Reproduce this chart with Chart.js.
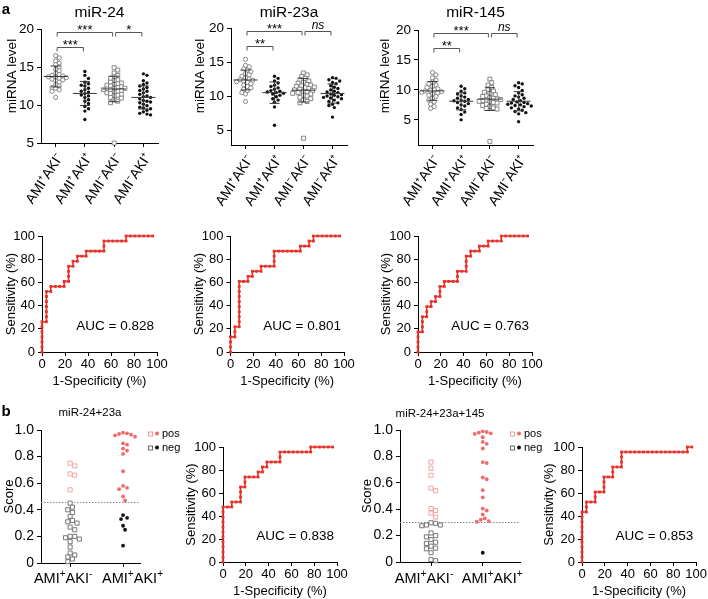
<!DOCTYPE html>
<html>
<head>
<meta charset="utf-8">
<script src="https://cdn.jsdelivr.net/npm/chart.js@4.4.1/dist/chart.umd.min.js"></script>
<style>
  body { margin: 0; width: 708px; height: 599px; overflow: hidden; background: #fff; position: relative;
         font-family: "Liberation Sans", Arial, sans-serif; }
  .txt { position: absolute; white-space: nowrap; color: #000; line-height: 1; }
  .txt sup { font-size: 0.7em; vertical-align: 0.55em; line-height: 0; }
  .sq { display: inline-block; width: 3px; height: 3px; border: 1px solid; margin-right: 2px; vertical-align: middle; }
  .dot { display: inline-block; width: 4px; height: 4px; border-radius: 50%; margin-right: 3px; vertical-align: middle; }
</style>
</head>
<body>
<script>
// ---- data: panel a, miRNA levels per group ----
const groupLabels = ['AMI⁺AKI⁻', 'AMI⁺AKI⁺', 'AMI⁻AKI⁻', 'AMI⁻AKI⁺'];
const levelTicks = [5, 10, 15, 20];

const mir24G1 = [16.5, 16.2, 15.8, 15.5, 15.3, 15.0, 14.7, 14.5, 14.2, 14.0, 13.9, 13.8, 13.7, 13.7, 13.6, 13.5, 13.4, 13.3, 13.2, 13.0, 12.7, 12.5, 12.3, 12.2, 12.0, 11.8, 11.0];
const mir24G2 = [14.4, 13.9, 13.5, 13.0, 12.8, 12.6, 12.5, 12.2, 12.0, 11.8, 11.7, 11.5, 11.3, 11.2, 11.0, 10.7, 10.5, 10.2, 9.8, 9.5, 9.2, 8.1];
const mir24G3 = [14.9, 14.6, 14.2, 13.9, 13.7, 13.5, 13.3, 13.2, 13.0, 12.9, 12.8, 12.7, 12.6, 12.5, 12.4, 12.3, 12.2, 12.2, 12.1, 12.0, 12.0, 11.9, 11.8, 11.7, 11.6, 11.5, 11.4, 11.3, 11.2, 11.0, 10.9, 10.7, 10.5, 10.3, 5.0];
const mir24G4 = [14.1, 13.9, 13.2, 12.9, 12.7, 12.5, 12.3, 12.1, 11.9, 11.8, 11.6, 11.4, 11.2, 11.1, 11.0, 10.8, 10.6, 10.5, 10.4, 10.3, 10.1, 9.9, 9.7, 9.6, 9.5, 9.3, 9.1, 8.9, 8.8, 8.7];

const mir23aG1 = [15.4, 14.5, 14.3, 14.0, 13.8, 13.6, 13.3, 13.1, 12.9, 12.7, 12.5, 12.4, 12.3, 12.2, 12.1, 12.0, 11.8, 11.6, 11.4, 11.2, 11.0, 10.8, 10.5, 10.3, 9.2];
const mir23aG2 = [12.9, 12.6, 12.2, 11.9, 11.6, 11.4, 11.2, 11.0, 10.8, 10.7, 10.6, 10.5, 10.4, 10.3, 10.1, 9.9, 9.6, 9.4, 9.1, 8.4, 5.7];
const mir23aG3 = [13.4, 13.1, 12.9, 12.6, 12.4, 12.2, 12.0, 11.9, 11.7, 11.6, 11.5, 11.4, 11.3, 11.2, 11.1, 11.0, 10.9, 10.8, 10.7, 10.6, 10.5, 10.4, 10.3, 10.1, 10.0, 9.8, 9.6, 9.4, 9.2, 9.0, 3.8];
const mir23aG4 = [12.7, 12.6, 12.4, 12.2, 12.0, 11.8, 11.5, 11.3, 11.1, 10.9, 10.7, 10.6, 10.5, 10.3, 10.2, 10.1, 10.0, 9.9, 9.8, 9.7, 9.6, 9.4, 9.2, 9.0, 8.8, 8.6, 8.3, 6.9];

const mir145G1 = [12.9, 12.5, 12.0, 11.6, 11.3, 11.0, 10.8, 10.6, 10.4, 10.2, 10.0, 9.9, 9.8, 9.7, 9.6, 9.5, 9.3, 9.1, 8.9, 8.6, 8.3, 8.0, 7.6, 7.2, 6.9];
const mir145G2 = [10.6, 10.2, 9.8, 9.5, 9.3, 9.0, 8.8, 8.6, 8.4, 8.3, 8.2, 8.1, 7.9, 7.7, 7.5, 7.3, 7.0, 6.7, 6.3, 5.9, 5.0];
const mir145G3 = [11.8, 11.2, 10.8, 10.4, 10.1, 9.8, 9.6, 9.4, 9.2, 9.0, 8.9, 8.7, 8.6, 8.5, 8.4, 8.3, 8.2, 8.1, 8.0, 7.9, 7.8, 7.6, 7.4, 7.2, 7.0, 6.9, 6.8, 1.4];
const mir145G4 = [11.2, 11.0, 10.7, 10.4, 9.9, 9.5, 9.2, 9.0, 8.8, 8.6, 8.4, 8.2, 8.0, 7.9, 7.8, 7.7, 7.6, 7.5, 7.4, 7.3, 7.2, 7.0, 6.8, 6.6, 6.4, 6.2, 6.0, 4.7];

// significance: [group a, group b, label, row]
const sig24 = [[1, 3, '***', 0], [3, 4, '*', 0], [1, 2, '***', 1]];
const sig23a = [[1, 3, '***', 0], [3, 4, 'ns', 0], [1, 2, '**', 1]];
const sig145 = [[1, 3, '***', 0], [3, 4, 'ns', 0], [1, 2, '**', 1]];

// ---- data: ROC curves (false positives / true positives as counts) ----
const N_NEG = 26, N_POS = 23;
const rocTicks = [0, 20, 40, 60, 80, 100];
const roc24FP = [0,0,0,0,0,0,0, 1,1,1,1,1,1,1, 2,2, 3,4,5, 5,6,6,6,6, 7,7, 8,8, 9,10,10, 11,12,13,14,14,14, 15,16,17,18,19,19, 20,21,22,23,24,25];
const roc24TP = [0,1,2,3,4,5,6, 6,7,8,9,10,11,12, 12,13, 13,13,13, 14,14,15,16,17, 17,18, 18,19, 19,19,20, 20,20,20,20,21,22, 22,22,22,22,22,23, 23,23,23,23,23,23];
const roc23aFP = [0,0,0,0, 1,1,1, 2,2,2,2,2,2,2,2,2,2, 3,4,4, 5,5, 6,7,7, 8,9,10,10,10,10, 11,12,13,14,15,16,16, 17,18,18, 19,19, 20,21,22,23,24,25];
const roc23aTP = [0,1,2,3, 3,4,5, 5,6,7,8,9,10,11,12,13,14, 14,14,15, 15,16, 16,16,17, 17,17,17,18,19,20, 20,20,20,20,20,20,21, 21,21,22, 22,23, 23,23,23,23,23,23];
const roc145FP = [0,0,0,0,0, 1,1,1,1, 2,2,2, 3,3, 4,4, 5,5,5, 6,6, 7,8,9,9,9, 10,11,11,11,11, 12,12, 13,14,14, 15,16,16, 17,18,19,19, 20,21,22,23,24,25];
const roc145TP = [0,1,2,3,4, 4,5,6,7, 7,8,9, 9,10, 10,11, 11,12,13, 13,14, 14,14,14,15,16, 16,16,17,18,19, 19,20, 20,20,21, 21,21,22, 22,22,22,23, 23,23,23,23,23,23];
const rocB1FP = [0,0,0,0,0,0,0,0,0,0,0,0, 1, 2,2, 3, 4,4,4,4, 5,5,5, 6,7, 8,8, 9,9, 10,10, 11,12, 13,13,13, 14,15,16,17,18,19, 20,20, 21,22,23,24,25];
const rocB1TP = [0,1,2,3,4,5,6,7,8,9,10,11, 11, 11,12, 12, 12,13,14,15, 15,16,17, 17,17, 17,18, 18,19, 19,20, 20,20, 20,21,22, 22,22,22,22,22,22, 22,23, 23,23,23,23,23];
const rocB2FP = [0,0,0,0,0,0,0,0,0,0,0, 1,1,1, 2, 3,3,3, 4, 5,5,5,5, 6, 7,7,7, 8, 9,9,9,9, 10,11,12,13,14,15,16,17,18,19,20,21,22,23, 24,24, 25];
const rocB2TP = [0,1,2,3,4,5,6,7,8,9,10, 10,11,12, 12, 12,13,14, 14, 14,15,16,17, 17, 17,18,19, 19, 19,20,21,22, 22,22,22,22,22,22,22,22,22,22,22,22,22,22, 22,23, 23];
const aucA = ['0.828', '0.801', '0.763'];
const aucB = ['0.838', '0.853'];

// ---- data: panel b, combined scores ----
const scoreTicks = [0, 0.2, 0.4, 0.6, 0.8, 1.0];
const scoreAbNeg = [0.75, 0.73, 0.67, 0.66, 0.55, 0.45, 0.42, 0.40, 0.38, 0.35, 0.32, 0.31, 0.30, 0.27, 0.25, 0.20, 0.20, 0.19, 0.18, 0.16, 0.12, 0.075, 0.06, 0.045, 0.03, 0.01];
const scoreAbPos = [0.98, 0.975, 0.97, 0.965, 0.96, 0.95, 0.90, 0.89, 0.86, 0.845, 0.82, 0.69, 0.58, 0.565, 0.555, 0.50, 0.47, 0.36, 0.34, 0.33, 0.28, 0.25, 0.13];
const scoreAbcNeg = [0.757, 0.71, 0.657, 0.56, 0.54, 0.405, 0.39, 0.37, 0.34, 0.297, 0.293, 0.28, 0.28, 0.275, 0.22, 0.20, 0.19, 0.17, 0.15, 0.14, 0.12, 0.105, 0.10, 0.07, 0.018, 0.01];
const scoreAbcPos = [0.99, 0.985, 0.98, 0.975, 0.97, 0.945, 0.91, 0.895, 0.86, 0.757, 0.75, 0.64, 0.627, 0.544, 0.49, 0.405, 0.39, 0.36, 0.33, 0.32, 0.31, 0.305, 0.07];
const cutoffs = [0.46, 0.30];

// ---- setup ----
const FONT = '"Liberation Sans", Arial, sans-serif';
const RED = '#e5322a', PINK_OPEN = '#f19a9a', PINK_FILL = '#ef6a6a', GREY = '#7c7c7c';
Chart.defaults.font.family = FONT;
Chart.defaults.color = '#000';
Chart.defaults.animation = false;
Chart.defaults.responsive = false;
Chart.defaults.plugins.legend.display = false;
Chart.defaults.plugins.tooltip.enabled = false;

function addText(html, cx, cy, size, extra) {
  extra = extra || {};
  const d = document.createElement('div');
  d.className = 'txt';
  d.innerHTML = html;
  d.style.left = cx + 'px';
  d.style.top = cy + 'px';
  d.style.fontSize = size + 'px';
  d.style.transform = 'translate(-50%,-50%)';
  if (extra.bold) d.style.fontWeight = 'bold';
  document.body.appendChild(d);
  return d;
}

function addCanvas(box) {
  const c = document.createElement('canvas');
  c.width = box.w; c.height = box.h;
  c.style.cssText = 'position:absolute;left:' + box.x + 'px;top:' + box.y + 'px;width:' + box.w + 'px;height:' + box.h + 'px';
  document.body.appendChild(c);
  return c;
}

function linAxis(min, max, ticks, size, fmt, title) {
  return {
    type: 'linear', min: min, max: max, bounds: 'data',
    afterBuildTicks: s => { s.ticks = ticks.map(v => ({ value: v })); },
    ticks: { autoSkip: false, font: { size: size }, color: '#000', padding: 3, callback: fmt || (v => v),
             minRotation: 0, maxRotation: 0 },
    grid: { drawOnChartArea: false, drawTicks: true, tickLength: 4, color: '#000', lineWidth: 1 },
    border: { display: true, color: '#000', width: 1 },
    title: title ? { display: true, text: title, font: { size: 13 }, color: '#000', padding: { top: 4, bottom: 4 } } : { display: false }
  };
}

// put the chart area of a canvas at fixed page coordinates
function makeChart(box, area, xAxis, yAxis, datasets, plugins, pluginOpts) {
  xAxis.afterFit = s => { s.height = box.y + box.h - area.b; };
  yAxis.afterFit = s => { s.width = area.l - box.x; };
  return new Chart(addCanvas(box), {
    type: 'scatter',
    data: { datasets: datasets },
    options: {
      layout: { padding: { top: area.t - box.y, right: box.x + box.w - area.r, left: 0, bottom: 0 } },
      scales: { x: xAxis, y: yAxis },
      plugins: pluginOpts || {}
    },
    plugins: plugins || []
  });
}

// deterministic beeswarm offsets (returned in x units)
function swarm(vals, pxX, pxY, d) {
  const off = new Array(vals.length).fill(0);
  const placed = [];
  const order = vals.map((v, i) => i).sort((a, b) => vals[b] - vals[a]);
  order.forEach(i => {
    const py = vals[i] * pxY;
    for (let k = 0; k < 60; k++) {
      const cand = (k % 2 ? 1 : -1) * Math.ceil(k / 2) * d * 0.5;
      if (placed.every(p => Math.hypot(p.x - cand, p.y - py) >= d)) {
        off[i] = cand; placed.push({ x: cand, y: py }); return;
      }
    }
  });
  return off.map(o => o / pxX);
}

function meanSd(v) {
  const m = v.reduce((a, b) => a + b, 0) / v.length;
  const sd = Math.sqrt(v.reduce((a, b) => a + (b - m) * (b - m), 0) / (v.length - 1));
  return [m, sd];
}

// ---- plugins ----
const meanBars = {
  id: 'meanBars',
  afterDatasetsDraw(chart) {
    const { ctx, scales: { x, y } } = chart;
    ctx.save();
    ctx.strokeStyle = '#3a3a3a'; ctx.lineWidth = 1;
    chart.data.datasets.forEach((ds, i) => {
      const [m, sd] = meanSd(ds.data.map(p => p.y));
      const cx = x.getPixelForValue(i + 1);
      const ym = y.getPixelForValue(m), y1 = y.getPixelForValue(m + sd), y2 = y.getPixelForValue(m - sd);
      ctx.beginPath();
      ctx.moveTo(cx - 12, ym); ctx.lineTo(cx + 12, ym);
      ctx.moveTo(cx, y1); ctx.lineTo(cx, y2);
      ctx.moveTo(cx - 5, y1); ctx.lineTo(cx + 5, y1);
      ctx.moveTo(cx - 5, y2); ctx.lineTo(cx + 5, y2);
      ctx.stroke();
    });
    ctx.restore();
  }
};

const sigBrackets = {
  id: 'sig',
  afterDraw(chart, args, opts) {
    const { ctx, chartArea, scales: { x } } = chart;
    ctx.save();
    ctx.strokeStyle = '#555'; ctx.lineWidth = 1; ctx.fillStyle = '#000'; ctx.textAlign = 'center';
    (opts.pairs || []).forEach(([a, b, lab, row]) => {
      const yy = Math.round(chartArea.top + 3 + row * 15) + 0.5;
      const x1 = x.getPixelForValue(a) + 1.5, x2 = x.getPixelForValue(b) - 1.5;
      ctx.beginPath();
      ctx.moveTo(x1, yy + 4); ctx.lineTo(x1, yy); ctx.lineTo(x2, yy); ctx.lineTo(x2, yy + 4);
      ctx.stroke();
      const star = lab.indexOf('*') >= 0;
      ctx.font = (star ? '13px ' : 'italic 12px ') + FONT;
      ctx.fillText(lab, (x1 + x2) / 2, star ? yy + 1.5 : yy - 3);
    });
    ctx.restore();
  }
};

// rotated axis title placed left of the chart area, centred on a given page y
const sideTitle = {
  id: 'sideTitle',
  afterDraw(chart, args, opts) {
    const { ctx } = chart;
    ctx.save();
    ctx.font = '13.5px ' + FONT; ctx.fillStyle = '#000';
    ctx.textAlign = 'center'; ctx.textBaseline = 'middle';
    ctx.translate(opts.x, opts.y);
    ctx.rotate(-Math.PI / 2);
    ctx.fillText(opts.text, 0, 0);
    ctx.restore();
  }
};

const aucText = {
  id: 'auc',
  afterDraw(chart, args, opts) {
    const { ctx, chartArea, scales: { y } } = chart;
    ctx.save();
    ctx.font = '13.5px ' + FONT; ctx.fillStyle = '#000';
    ctx.textAlign = 'right'; ctx.textBaseline = 'middle';
    ctx.fillText('AUC = ' + opts.value, chartArea.right - 3, y.getPixelForValue(22));
    ctx.restore();
  }
};

const cutLine = {
  id: 'cut',
  beforeDatasetsDraw(chart, args, opts) {
    const { ctx, chartArea, scales: { y } } = chart;
    const yy = Math.round(y.getPixelForValue(opts.value)) + 0.5;
    ctx.save();
    ctx.strokeStyle = '#8a8a8a'; ctx.lineWidth = 1; ctx.setLineDash([1.5, 1.5]);
    ctx.beginPath(); ctx.moveTo(chartArea.left, yy); ctx.lineTo(chartArea.right, yy); ctx.stroke();
    ctx.restore();
  }
};

// ---- panel a, row 1: dot plots ----
const dotPanels = [
  { title: 'miR-24', groups: [mir24G1, mir24G2, mir24G3, mir24G4], min: 5, sig: sig24,
    box: { x: 0, y: 0, w: 175, h: 212 }, area: { l: 41, t: 29, r: 158, b: 143 }, yTitleX: 12 },
  { title: 'miR-23a', groups: [mir23aG1, mir23aG2, mir23aG3, mir23aG4], min: 2.8, sig: sig23a,
    box: { x: 190, y: 0, w: 175, h: 212 }, area: { l: 231, t: 28, r: 347, b: 145 }, yTitleX: 200 },
  { title: 'miR-145', groups: [mir145G1, mir145G2, mir145G3, mir145G4], min: 0.8, sig: sig145,
    box: { x: 375, y: 0, w: 175, h: 212 }, area: { l: 418, t: 30, r: 533, b: 145 }, yTitleX: 385 }
];

const dotStyles = [
  { pointStyle: 'circle', pointRadius: 2.1, pointBackgroundColor: '#fff', pointBorderColor: GREY, pointBorderWidth: 0.9 },
  { pointStyle: 'circle', pointRadius: 1.7, pointBackgroundColor: '#111', pointBorderColor: '#111', pointBorderWidth: 0 },
  { pointStyle: 'rect', pointRadius: 2.8, pointBackgroundColor: '#fff', pointBorderColor: GREY, pointBorderWidth: 0.9 },
  { pointStyle: 'circle', pointRadius: 1.7, pointBackgroundColor: '#111', pointBorderColor: '#111', pointBorderWidth: 0 }
];

dotPanels.forEach(p => {
  const pxX = (p.area.r - p.area.l) / 4;
  const pxY = (p.area.b - p.area.t) / (20 - p.min);
  const datasets = p.groups.map((vals, gi) => {
    const off = swarm(vals, pxX, pxY, 3.6);
    return Object.assign({ data: vals.map((v, j) => ({ x: gi + 1 + off[j], y: v })), clip: false }, dotStyles[gi]);
  });
  const xAxis = linAxis(0.5, 4.5, [1, 2, 3, 4], 14, (v, i) => groupLabels[i]);
  xAxis.ticks.minRotation = 57; xAxis.ticks.maxRotation = 57; xAxis.ticks.labelOffset = 5;
  const yAxis = linAxis(p.min, 20, levelTicks, 13.5);
  makeChart(p.box, p.area, xAxis, yAxis, datasets, [meanBars, sigBrackets, sideTitle],
    { sig: { pairs: p.sig }, sideTitle: { text: 'miRNA level', x: p.yTitleX - p.box.x, y: 76 - p.box.y } });
  addText(p.title, (p.area.l + p.area.r) / 2, 12, 15.5);
});
addText('a', 6, 8, 15, { bold: true });

// ---- panel a, row 2 and panel b: ROC curves ----
function rocDataset(fp, tp) {
  return {
    data: fp.map((f, i) => ({ x: f / N_NEG * 100, y: tp[i] / N_POS * 100 })),
    showLine: true, borderColor: RED, borderWidth: 1.6, tension: 0, clip: false,
    pointStyle: 'rect', pointRadius: 2.0, pointBackgroundColor: RED, pointBorderColor: RED, pointBorderWidth: 0
  };
}
const rocPanels = [
  { fp: roc24FP, tp: roc24TP, auc: aucA[0], box: { x: 0, y: 215, w: 176, h: 178 }, area: { l: 42, t: 236, r: 157, b: 352 } },
  { fp: roc23aFP, tp: roc23aTP, auc: aucA[1], box: { x: 188, y: 215, w: 174, h: 178 }, area: { l: 230.5, t: 236, r: 344, b: 352 } },
  { fp: roc145FP, tp: roc145TP, auc: aucA[2], box: { x: 375, y: 215, w: 175, h: 178 }, area: { l: 418, t: 236, r: 532, b: 352 } },
  { fp: rocB1FP, tp: rocB1TP, auc: aucB[0], box: { x: 180, y: 420, w: 170, h: 183 }, area: { l: 223, t: 447, r: 337, b: 562 } },
  { fp: rocB2FP, tp: rocB2TP, auc: aucB[1], box: { x: 538, y: 420, w: 170, h: 183 }, area: { l: 582, t: 447, r: 697, b: 562 } }
];
rocPanels.forEach(p => {
  const xAxis = linAxis(0, 100, rocTicks, 13, null, '1-Specificity (%)');
  xAxis.ticks.padding = 1;
  const yAxis = linAxis(0, 100, rocTicks, 13, null, 'Sensitivity (%)');
  makeChart(p.box, p.area, xAxis, yAxis, [rocDataset(p.fp, p.tp)], [aucText], { auc: { value: p.auc } });
});

// ---- panel b: score plots ----
const scorePanels = [
  { title: 'miR-24+23a', neg: scoreAbNeg, pos: scoreAbPos, cut: cutoffs[0], xmin: 0.45, xmax: 2.32,
    box: { x: -2, y: 405, w: 160, h: 194 }, area: { l: 41, t: 430, r: 140, b: 563 }, titleX: 90, titleY: 413, legendX: 148 },
  { title: 'miR-24+23a+145', neg: scoreAbcNeg, pos: scoreAbcPos, cut: cutoffs[1], xmin: 0.40, xmax: 2.72,
    box: { x: 356, y: 405, w: 172, h: 194 }, area: { l: 400, t: 430, r: 520, b: 562 }, titleX: 440, titleY: 414, legendX: 510 }
];
scorePanels.forEach(p => {
  const pxX = (p.area.r - p.area.l) / (p.xmax - p.xmin);
  const pxY = (p.area.b - p.area.t);
  const offN = swarm(p.neg, pxX, pxY, 4.6);
  const offP = swarm(p.pos, pxX, pxY, 4.0);
  const cut = p.cut;
  const negSet = {
    data: p.neg.map((v, j) => ({ x: 1 + offN[j], y: v })), clip: false,
    pointStyle: 'rect', pointRadius: 2.9, pointBackgroundColor: '#fff', pointBorderWidth: 0.9,
    pointBorderColor: c => (c.raw && c.raw.y > cut ? PINK_OPEN : '#6a6a6a')
  };
  const posSet = {
    data: p.pos.map((v, j) => ({ x: 2 + offP[j], y: v })), clip: false,
    pointStyle: 'circle', pointRadius: 1.9, pointBorderWidth: 0,
    pointBackgroundColor: c => (c.raw && c.raw.y > cut ? PINK_FILL : '#111')
  };
  const xAxis = linAxis(p.xmin, p.xmax, [1, 2], 13);
  xAxis.ticks.display = false;
  const yAxis = linAxis(0, 1, scoreTicks, 14, v => (v === 0 ? '0' : v.toFixed(1)), 'Score');
  makeChart(p.box, p.area, xAxis, yAxis, [negSet, posSet], [cutLine], { cut: { value: cut } });

  const c1 = p.area.l + (1 - p.xmin) * pxX, c2 = p.area.l + (2 - p.xmin) * pxX;
  addText('AMI<sup>+</sup>AKI<sup>-</sup>', c1 - 7, 578, 14.5);
  addText('AMI<sup>+</sup>AKI<sup>+</sup>', c2 + 9.5, 578, 14.5);
  addText(p.title, p.titleX, p.titleY, 11.5);
  const lp = addText('<span class="sq" style="border-color:' + PINK_OPEN + '"></span><span class="dot" style="background:' + PINK_FILL + '"></span>pos', 0, 433, 11);
  lp.style.transform = 'translate(0,-50%)'; lp.style.left = p.legendX + 'px';
  const ln = addText('<span class="sq" style="border-color:#6a6a6a"></span><span class="dot" style="background:#111"></span>neg', 0, 447, 11);
  ln.style.transform = 'translate(0,-50%)'; ln.style.left = p.legendX + 'px';
});
addText('b', 6, 410, 15, { bold: true });
</script>
</body>
</html>
